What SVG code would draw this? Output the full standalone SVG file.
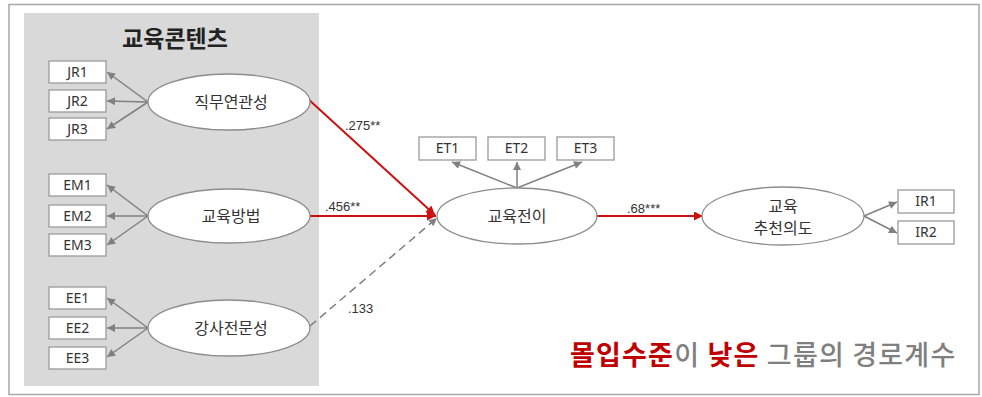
<svg xmlns="http://www.w3.org/2000/svg" width="982" height="397" viewBox="0 0 982 397">
<style>
.box{fill:#fff;stroke:#9a9a9a;stroke-width:1.3}
.ell{fill:#fff;stroke:#8c8c8c;stroke-width:1.3}
.bl{font-family:"Noto Sans","Liberation Sans",sans-serif;font-size:14px;fill:#333;text-anchor:middle}
.kl{font-family:"Noto Sans CJK KR","Noto Sans",sans-serif;font-size:16px;fill:#333;text-anchor:middle}
.gl{stroke:#808080;stroke-width:1.5;fill:none}
.rl{stroke:#cc1010;stroke-width:2;fill:none}
.num{font-family:"Liberation Sans",sans-serif;font-size:13px;fill:#333}
</style>
<defs>
<marker id="ga" viewBox="0 0 10 10" refX="10" refY="5" markerWidth="9" markerHeight="8" orient="auto" markerUnits="userSpaceOnUse"><path d="M0,0 L10,5 L0,10 z" fill="#808080"/></marker>
<marker id="ra" viewBox="0 0 10 10" refX="10" refY="5" markerWidth="10" markerHeight="9" orient="auto" markerUnits="userSpaceOnUse"><path d="M0,0 L10,5 L0,10 z" fill="#cc1010"/></marker>
</defs>
<rect x="9" y="4.5" width="970" height="390" fill="#fff" stroke="#a8a8a8" stroke-width="1.5"/>
<rect x="24" y="13" width="295" height="373" fill="#d9d9d9"/>
<text x="175" y="47" font-family="Noto Sans CJK KR,sans-serif" font-size="23" font-weight="bold" fill="#222" text-anchor="middle">교육콘텐츠</text>

<g id="connectors">
<line class="gl" x1="148" y1="102" x2="107" y2="72" marker-end="url(#ga)"/>
<line class="gl" x1="148" y1="102" x2="107" y2="101" marker-end="url(#ga)"/>
<line class="gl" x1="148" y1="102" x2="107" y2="129" marker-end="url(#ga)"/>
<line class="gl" x1="148" y1="216" x2="107" y2="185" marker-end="url(#ga)"/>
<line class="gl" x1="148" y1="216" x2="107" y2="216" marker-end="url(#ga)"/>
<line class="gl" x1="148" y1="216" x2="107" y2="245" marker-end="url(#ga)"/>
<line class="gl" x1="148" y1="328" x2="107" y2="298" marker-end="url(#ga)"/>
<line class="gl" x1="148" y1="328" x2="107" y2="328" marker-end="url(#ga)"/>
<line class="gl" x1="148" y1="328" x2="107" y2="357" marker-end="url(#ga)"/>
<line class="gl" x1="517" y1="188" x2="452" y2="162" marker-end="url(#ga)"/>
<line class="gl" x1="517" y1="188" x2="517" y2="162" marker-end="url(#ga)"/>
<line class="gl" x1="517" y1="188" x2="582" y2="162" marker-end="url(#ga)"/>
<line class="gl" x1="864" y1="216" x2="897" y2="202" marker-end="url(#ga)"/>
<line class="gl" x1="864" y1="216" x2="897" y2="233" marker-end="url(#ga)"/>
<line class="gl" x1="310" y1="326" x2="437" y2="218" stroke-dasharray="8,5" stroke-width="2" marker-end="url(#ga)"/>
<line class="rl" x1="307" y1="98" x2="435" y2="215" marker-end="url(#ra)"/>
<line class="rl" x1="310" y1="216" x2="436" y2="216" marker-end="url(#ra)"/>
<line class="rl" x1="597" y1="216" x2="703" y2="216" marker-end="url(#ra)"/>
<text class="num" x="345" y="130">.275**</text>
<text class="num" x="325" y="211">.456**</text>
<text class="num" x="348" y="313">.133</text>
<text class="num" x="627" y="213">.68***</text>
</g>

<g id="JR1"><rect class="box" x="49" y="61" width="57" height="22"/><text class="bl" x="77.5" y="77">JR1</text></g>
<g id="JR2"><rect class="box" x="49" y="90" width="57" height="22"/><text class="bl" x="77.5" y="106">JR2</text></g>
<g id="JR3"><rect class="box" x="49" y="118" width="57" height="22"/><text class="bl" x="77.5" y="134">JR3</text></g>
<g id="EM1"><rect class="box" x="49" y="174" width="57" height="22"/><text class="bl" x="77.5" y="190">EM1</text></g>
<g id="EM2"><rect class="box" x="49" y="205" width="57" height="22"/><text class="bl" x="77.5" y="221">EM2</text></g>
<g id="EM3"><rect class="box" x="49" y="234" width="57" height="22"/><text class="bl" x="77.5" y="250">EM3</text></g>
<g id="EE1"><rect class="box" x="49" y="287" width="57" height="22"/><text class="bl" x="77.5" y="303">EE1</text></g>
<g id="EE2"><rect class="box" x="49" y="317" width="57" height="22"/><text class="bl" x="77.5" y="333">EE2</text></g>
<g id="EE3"><rect class="box" x="49" y="347" width="57" height="22"/><text class="bl" x="77.5" y="363">EE3</text></g>

<g id="job"><ellipse class="ell" cx="229" cy="102" rx="81" ry="28"/><text class="kl" x="231" y="108">직무연관성</text></g>
<g id="method"><ellipse class="ell" cx="229" cy="216" rx="81" ry="27"/><text class="kl" x="231" y="222">교육방법</text></g>
<g id="expert"><ellipse class="ell" cx="229" cy="328" rx="81" ry="28"/><text class="kl" x="231" y="334">강사전문성</text></g>

<g id="ET1"><rect class="box" x="419" y="137" width="57" height="23"/><text class="bl" x="447.5" y="153">ET1</text></g>
<g id="ET2"><rect class="box" x="488" y="137" width="57" height="23"/><text class="bl" x="516.5" y="153">ET2</text></g>
<g id="ET3"><rect class="box" x="557" y="137" width="57" height="23"/><text class="bl" x="585.5" y="153">ET3</text></g>

<g id="transfer"><ellipse class="ell" cx="517" cy="216" rx="80" ry="28"/><text class="kl" x="517" y="222">교육전이</text></g>
<g id="recommend"><ellipse class="ell" cx="783" cy="216" rx="81" ry="29"/><text class="kl" x="783" y="212">교육</text><text class="kl" x="783" y="234">추천의도</text></g>

<g id="IR1"><rect class="box" x="898" y="190" width="56" height="23"/><text class="bl" x="926" y="206">IR1</text></g>
<g id="IR2"><rect class="box" x="898" y="221" width="56" height="23"/><text class="bl" x="926" y="237">IR2</text></g>

<text x="570" y="365" font-family="Noto Sans CJK KR,sans-serif" font-size="27" font-weight="500" letter-spacing="1.2" fill="#7f7f7f"><tspan fill="#c00000" font-weight="bold">몰입수준</tspan>이 <tspan fill="#c00000" font-weight="bold">낮은</tspan> 그룹의 경로계수</text>
</svg>
